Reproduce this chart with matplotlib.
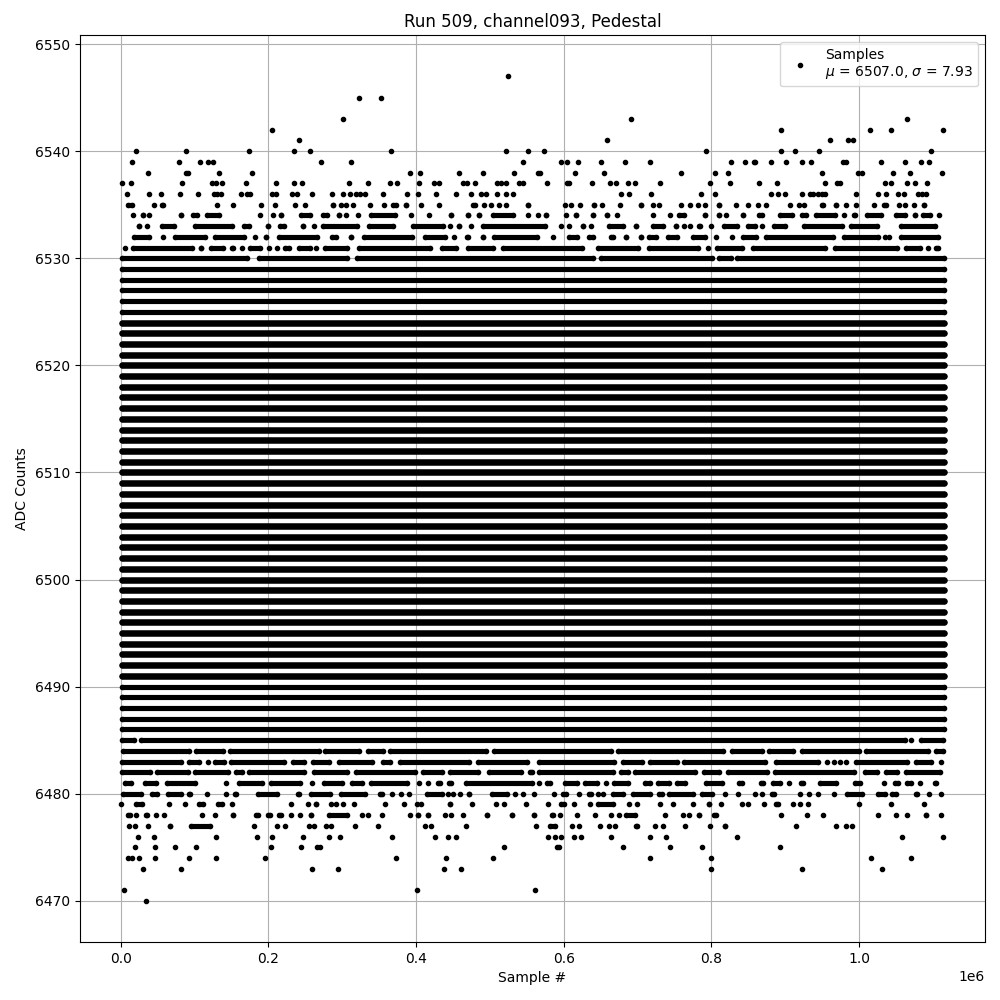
"""
Pedestal samples for one channel, rebuilt from values read off the picture.
Sample numbers are in thousands. A plain number is a single sample, a tuple is a
run of samples that merge into one bar (measured edge to edge).
"""

import matplotlib
matplotlib.use("Agg")
import matplotlib.pyplot as plt

DOT_RADIUS = 4  # thousand samples, about 3 px on this axis

row_6547 = [524.6]
row_6545 = [322.8, 352.6]
row_6543 = [301.1, 691, 1064.8]
row_6542 = [205, 894.2, 1014.7, 1043.1, 1113.5]
row_6541 = [241.5, 658.5, 960.5, 984.9, 991.7]
row_6540 = [20.8, 88.5, 173.8, 234.8, 256.4, 366.1, 521.9, 551.6, 573.2, 792.6, 894.2, 913.1, 945.6, 1097.3]
row_6539 = [15.4, 79, 107.5, 118.3, 125.1, 271.3, 312, 544.9, 596.2, 604.4, 619.3, 650.4, 682.9, 716.8,
            826.4, 845.4, 857.6, 858.9, 880.6, 900.9, 922.6, 934.8, 978.1, 982.2, 1029.6, 1062.1, 1083.7, 1094.6]
row_6538 = [37, 88.5, 91.2, 133.2, 177.9, 391.8, 405.4, 458.2, 490.7, 532.7, 564.6, 567.3, 615.2, 654.5,
            758.7, 804.8, 822.4, 949.7, 998.4, 1003.9, 1045.8, 1068.9, 1112.2]
row_6537 = [1.8, 14, 83.1, 123.7, 129.1, 137.3, 169.8, 210.4, 234.8, 245.6, 309.3, 335, 364.8, 374.3, 404,
            424.4, 431.1, 463.6, 469, 479.9, 509.7, 515.1, 521.9, 539.5, 544.9, 577.3, 604.4, 607.1, 638.2,
            662.6, 670.7, 687, 696.4, 730.3, 798, 825.1, 864.4, 888.7, 953.7, 970, 974, 1035, 1043.1, 1064.8,
            1075.6, 1091.9]
row_6536 = [8.6, 38.4, 54.7, 80.4, 104.8, 126.4, 130.5, 135.9, 163, 171.1, 175.2, 205, 210.4, 232.1, 238.8,
            259.1, 286.2, 301.1, 310.6, 318.7, 324.1, 330.9, 355.3, 387.8, 402.7, 427.1, 454.2, 474.5, 488,
            494.8, 509.7, 521.9, 531.4, 677.5, 688.3, 718.1, 785.8, 804.8, 880.6, 890.1, 899.6, 922.6, 933.4,
            937.5, 944.3, 949.7, 953.7, 995.7, 1025.5, 1036.4, 1052.6, 1060.7, 1079.7, 1085.1, 1090.5]
row_6535 = [(5.5, 19), 45.2, (52, 61), 130.5, 152.2, 190.1, 209, 236.1, 249.7, (283, 292), 298.4, 305.6, 314.7,
            337.7, 356.7, (365, 377), (382, 390.5), 407.2, 431.1, (472.6, 484), 492, 501.5, 512.4, 521.9,
            (547, 554), 601.6, 609.8, 622, (636.9, 645), 651.8, 675.7, (701, 706), 720.8, 729, 758.3, 770.9,
            781.8, 791.2, (806.6, 812), 832.8, 849.5, 863.5, 873.4, 907.2, 918.5, 925.3, (945.6, 955.6),
            (964.6, 972.7), 982.2, 995.7, 1020, (1029.6, 1040.4), 1054, 1062, 1074.3, (1083.7, 1089)]
row_6534 = [16.7, (26.7, 32.5), 38.4, (77.7, 81.3), (93.5, 107), (112.4, 136.4), 188.7, 206.3, (213, 220),
            (240, 260.5), (269.5, 283), (291, 300), 305.2, 321.4, (335, 375.6), 393.2, 417.6, (443.3, 450),
            (466.8, 472.6), (481.7, 488.5), (499.7, 535.8), 551.6, 565, (571.9, 578.6), 603.5, (612.5, 620.6),
            (635, 643), (654, 661), 672, 720.8, 743.4, (752.4, 766.9), (787.6, 794), (806.6, 812), 819.7,
            (839.1, 846.3), (859.9, 872), (888.7, 912.7), (918.5, 932), (937.5, 971.3), 979.5, (989.4, 998.4),
            (1006.6, 1033.2), (1045.8, 1066), (1071.6, 1078.3), (1082.8, 1100), 1108.1]
row_6533 = [(21.2, 28), 34.8, (52, 75.4), (97, 154.4), (163.4, 177), (195, 202.7), (212.2, 224.4), (242.4, 247),
            261.8, (269.5, 323.7), (331.8, 373.4), (392.3, 441), 445.6, (453.7, 459.1), 474, (486.2, 578.6),
            596.7, 607, (621.5, 630.5), 636.9, (657.6, 684.7), (693.7, 700.5), (716.3, 738.9), (747.9, 754.7),
            762.8, 770.9, (778.6, 788.5), 799.8, (813.4, 839.1), (845, 863), 868, (881, 903.6), (921.7, 980.4),
            (984.9, 1027.8), (1052.6, 1106.8)]
row_6532 = [(14.5, 41.6), 57.4, (70, 118.3), (124.2, 170.2), 182, (192.8, 199.6), (210, 269.5), (282.2, 295.7),
            (307.9, 312.4), (326, 398.2), (408.6, 443.3), 451.4, (464.5, 475), (486.2, 494), (502, 567.3), 585.4,
            (603.5, 621.5), (630.5, 644), (659.4, 671.2), (680.2, 688.3), (700.5, 707.3), (711.8, 729),
            (736.6, 757), (771.8, 795.3), 806.6, 827.8, (839.1, 864.4), (869.8, 969.1), (975.9, 1030), 1035,
            1040.4, (1052.6, 1111.3)]
row_6531 = [5.5, (13.1, 100.2), (104.8, 111.5), (118.3, 143.1), (146.7, 155.8), 164.8, (171.1, 192.8), 200.5,
            211.7, (219, 232.5), (237, 260.5), 265, (273.1, 310.2), (319.2, 423), (431.1, 458.2), (465.9, 508.8),
            (513.3, 628.3), (642.7, 705), (711.8, 786.3), 795.3, (803.4, 845), (852.6, 957.8), (963.7, 1054.9),
            (1059.4, 1086.5), 1093.2, (1100.9, 1111.3)]
row_6530 = [(-2.7, 174.7), (183.8, 310.2), (315.6, 644), (646.3, 804.3), (806.6, 830), (831.4, 1119)]

# rows 6486..6529 have no visible gaps
full_levels = [6486, 6487, 6488, 6489, 6490, 6491, 6492, 6493, 6494, 6495, 6496, 6497, 6498, 6499, 6500,
               6501, 6502, 6503, 6504, 6505, 6506, 6507, 6508, 6509, 6510, 6511, 6512, 6513, 6514, 6515,
               6516, 6517, 6518, 6519, 6520, 6521, 6522, 6523, 6524, 6525, 6526, 6527, 6528, 6529]
full_run = [(-2.7, 1119)]

row_6485 = [(-2.7, 21.3), (23, 1066), 1070.2, (1079.7, 1117.2)]
row_6484 = [(-1.3, 95.7), (97.5, 142.2), (144, 271.8), (273.1, 326.9), (330.5, 358.9), (360.7, 498.4),
            (501.1, 667.6), (669.4, 820.1), (823.3, 872), (874.3, 914), (919.4, 1004.3), (1006, 1097.3),
            (1100, 1118)]
row_6483 = [(-2.7, 85.4), (88, 109.7), 118.3, (124.2, 144), (145.8, 225.7), (228.9, 252.8), (256.9, 286.7),
            (291.2, 344), (350.8, 368), (374.7, 476.3), (479.4, 553.9), (562.8, 672), (676.6, 709.5),
            (713.1, 757.8), (759.2, 876.1), (883.3, 948.3), 956.5, 966.8, 974.5, 982.2, (992.6, 1068.4),
            (1072.9, 1100.9), 1111.3]
row_6482 = [(-2.7, 43.8), (44.7, 94.4), (96.2, 148.6), (151.7, 168), (169.3, 252.4), (257.3, 311), (314.7, 402.7),
            (405, 438.8), (442, 488.5), (494.3, 545.8), (550.3, 560.6), (561.9, 671.2), (674.1, 690.6),
            (691.9, 781.8), (786.7, 814.3), (818.8, 879.7), (882.4, 997.1), (1004.3, 1028.7), (1032.3, 1055.8),
            (1059.4, 1113.5)]
row_6481 = [(1.4, 17.6), (28.9, 51.5), (58, 104), 142.7, (155.8, 195), (199.6, 247), 259.2, (270.9, 303.4),
            (308.8, 330.5), (335, 391.4), 404, 416.2, (425.3, 436.6), (441, 451), (463.6, 560.6), 566.4,
            (572.8, 585.4), (598, 621.5), (625.1, 649.5), 657.2, (664.4, 691), (705.9, 720.8), (724, 746),
            (748.8, 768.2), (788.5, 819), (832.8, 845), (863, 873.4), (879.7, 896.9), 905.4, (917.2, 928),
            (942.9, 972.7), (990.3, 1006), 1033.6, (1044.5, 1056.2), (1061.6, 1073.8), 1082, (1099.1, 1108.1)]
row_6480 = [(-1.3, 31.2), (38.4, 52.9), (59.6, 85.4), (89, 98), 117, 142.7, (151.3, 159.4), (182, 215.4),
            (235.7, 245.6), (253.7, 287.6), (294.4, 335), (347.2, 357.5), 367.5, 379.7, 390.5, (410.4, 438.8),
            443.3, 450, 459.6, (467.2, 475.4), (498.4, 527.7), 534, 544.9, 559.7, 586.8, (594.4, 607), 620.2,
            (629.6, 640.5), 645.9, 653.1, (662.1, 684.7), (689.2, 720.8), (724.4, 736.6), (738.9, 778.6),
            (784, 804.3), 817.9, 835.9, 858.9, 868.4, (877.9, 888.7), 919.9, 932.1, 944.3, 965.9,
            (980.4, 1007.5), (1022.4, 1039), (1041.3, 1054), (1073.8, 1082.8), 1094.6, 1110.8]
row_6479 = [0.5, (16.7, 32.5), 65, 87.2, (102.5, 116), (128.2, 141.3), 150.8, 230.7, 253.7, (260.5, 267.3), 285.3,
            292.1, 301.1, 316, 358, 383.7, 401.3, 407.2, (442, 449.2), 475.8, 508.3, 519.2, 549, 578.6,
            (592.2, 604.4), 613.8, 635.5, (641.8, 671.2), 687.9, 699.6, 729.8, 747.9, 775, (793, 801.2), 812.9,
            841.3, 849.5, 871.1, (883.3, 894.6), 910.4, 919.9, 930.7, 999.8, 1043.1, 1087.8]
row_6478 = [(5.5, 15.8), 20.8, (30.3, 39.3), 48.3, 58.7, 110.2, 127.8, (147.6, 155.8), (179.2, 189.2), (196, 206.3),
            (210.8, 220.8), 230.7, 242.9, (253.7, 260.5), (278.6, 311), 326.9, 335, 354, 391.9, (398.2, 407.2),
            (411.7, 420.7), 439.2, 447.4, 463.6, (491.6, 499.7), (525.9, 534), (556, 563.7), (580, 589), 594.9,
            617.9, 642.3, 663.9, 674.8, (681, 700.5), 737, 761.4, 769.6, (778.6, 787.6), (799.8, 809.7), 894.2,
            929.4, 951, 1025.5, 1050.4, 1064.8, (1086.5, 1093.2), 1110.8]
row_6477 = [11.3, 19.4, 37, (62, 70), (91.2, 125), 180.6, 211.3, 222.6, 255, 261.9, 278.1, 284.9, 317.4, 348.5,
            412.2, 420.3, 467.7, 562.4, (577.3, 592.2), 611.1, 620.6, 648.6, 661.2, 669.4, (693.7, 702.8), 723.5,
            734.4, 764.2, 798, (815, 822), 914.5, 968.6, 982.2, 990.3]
row_6476 = [23.5, 45.2, 129.1, 184.7, 205, 247, 282.2, 297, 367.5, 425.7, 443.3, 454.2, 578.6, 588.1, 596.2, 613.8,
            623.3, 663.9, 716.8, 738.4, 834.6, 1058, 1113.5]
row_6475 = [19.4, 46.5, 73.6, 102, 203.6, 244.2, 266, 270, 519.2, 590.4, 593.1, 680.2, 743.8, 787.2, 892.8]
row_6474 = [10, 15.4, 24.9, 46.5, 92.6, 129.1, 195.5, 372.9, 440.6, 504.3, 716.8, 799.4, 1016, 1070.2]
row_6473 = [30.3, 81.7, 259.2, 294.4, 437.9, 460.9, 799.4, 922.6, 1030.9]
row_6471 = [4.6, 401.3, 561]
row_6470 = [34.3]

levels = [6547, 6545, 6543, 6542, 6541, 6540, 6539, 6538, 6537, 6536, 6535, 6534, 6533, 6532, 6531, 6530,
          6485, 6484, 6483, 6482, 6481, 6480, 6479, 6478, 6477, 6476, 6475, 6474, 6473, 6471, 6470]
rows = [row_6547, row_6545, row_6543, row_6542, row_6541, row_6540, row_6539, row_6538, row_6537, row_6536,
        row_6535, row_6534, row_6533, row_6532, row_6531, row_6530,
        row_6485, row_6484, row_6483, row_6482, row_6481, row_6480, row_6479, row_6478, row_6477, row_6476,
        row_6475, row_6474, row_6473, row_6471, row_6470]

label = "Samples\n$\\mu$ = 6507.0, $\\sigma$ = 7.93"


def main():
    fig, ax = plt.subplots(figsize=(10, 10))
    fig.subplots_adjust(left=0.0797, right=0.985, top=0.965, bottom=0.058)

    dot_x, dot_y = [], []
    run_y, run_start, run_end, run_width = [], [], [], []

    for level, row in list(zip(levels, rows)) + [(lev, full_run) for lev in full_levels]:
        for item in row:
            if isinstance(item, tuple):
                # a one-dot-wide bar is at least a dot, so never invert the ends
                start = item[0] + DOT_RADIUS
                end = max(item[1] - DOT_RADIUS, start)
                run_y.append(level)
                run_start.append(start * 1000)
                run_end.append(end * 1000)
                # the most crowded rows print a little fatter than the thin ones
                run_width.append(4.7 if 6491 <= level <= 6524 else 3.7)
                dot_x += [start * 1000, end * 1000]
                dot_y += [level, level]
            else:
                dot_x.append(item * 1000)
                dot_y.append(level)

    ax.hlines(run_y, run_start, run_end, colors="black", linewidth=run_width, capstyle="round", zorder=2)
    ax.plot(dot_x, dot_y, "k.", label=label)

    ax.set_xlim(-55700, 1170700)
    ax.set_xlabel("Sample #")
    ax.set_ylabel("ADC Counts")
    ax.set_title("Run 509, channel093, Pedestal")
    ax.grid(True)
    ax.legend(loc="upper right")

    plt.savefig("out.png", dpi=100)
    plt.close()


if __name__ == "__main__":
    main()
